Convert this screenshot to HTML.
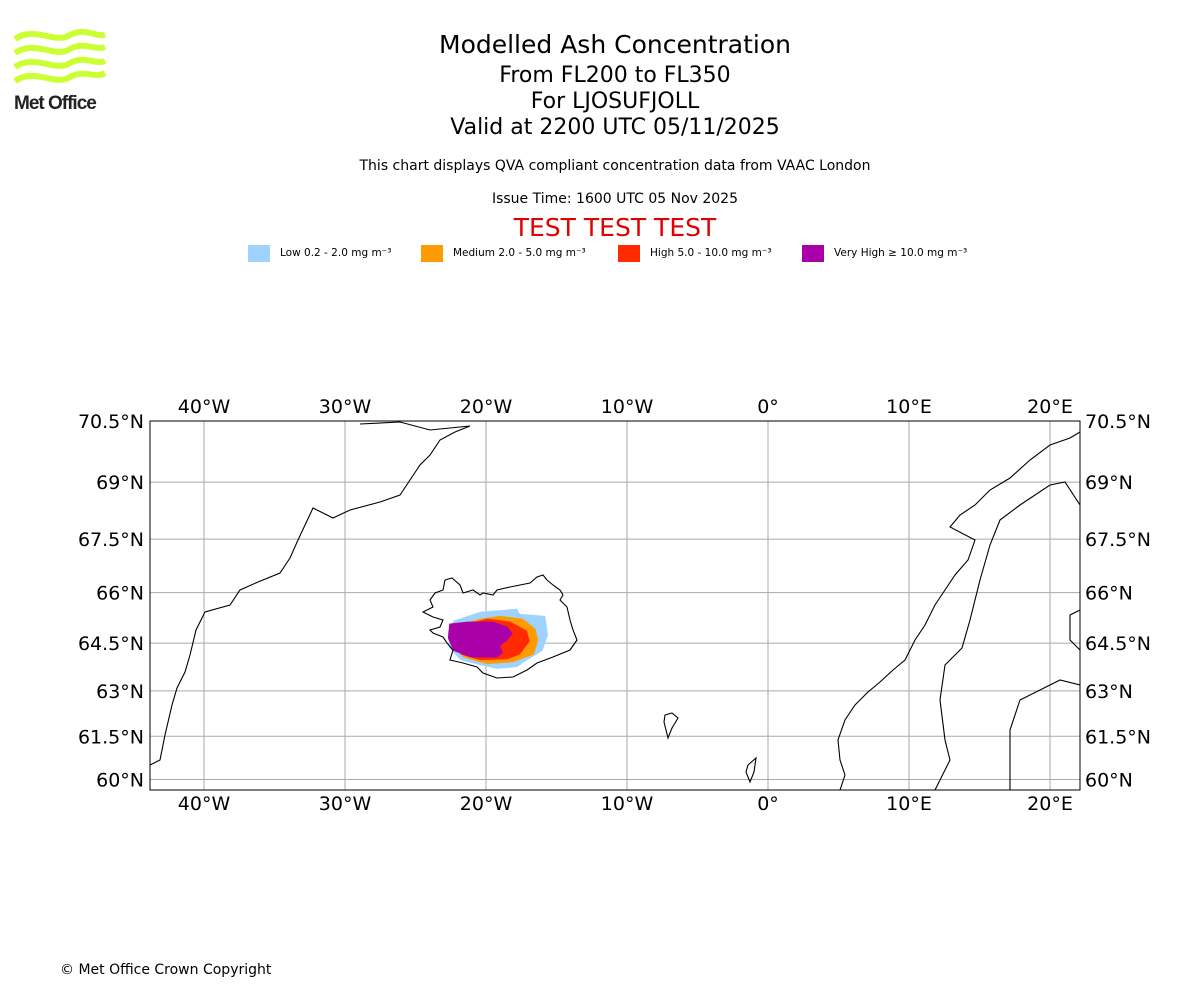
<!DOCTYPE html>
<html><head><meta charset="utf-8"><style>
body{margin:0;width:1200px;height:1000px;background:#fff;font-family:"DejaVu Sans","Liberation Sans",sans-serif;position:relative;overflow:hidden}
.t{position:absolute;left:0;width:1230px;text-align:center;color:#000}
</style></head><body>
<svg width="110" height="90" style="position:absolute;left:10px;top:25px" viewBox="0 0 110 90">
<g fill="none" stroke="#ccff33" stroke-width="6">
<path d="M5 14 C25 0,45 20,60 10 C75 2,85 12,95 10"/>
<path d="M5 28 C25 14,45 34,60 24 C75 16,85 26,95 22"/>
<path d="M5 42 C25 28,45 48,60 38 C75 30,85 40,95 36"/>
<path d="M5 56 C25 42,45 62,60 52 C75 44,85 54,95 48"/>
</g>
<text x="4" y="84" font-family="Liberation Sans,sans-serif" font-weight="bold" font-size="19" fill="#222" letter-spacing="-1">Met Office</text>
</svg>
<div class="t" style="top:30px;font-size:25px">Modelled Ash Concentration</div>
<div class="t" style="top:63px;font-size:22px">From FL200 to FL350</div>
<div class="t" style="top:89px;font-size:22px">For LJOSUFJOLL</div>
<div class="t" style="top:115px;font-size:22px">Valid at 2200 UTC 05/11/2025</div>
<div class="t" style="top:158px;font-size:14px">This chart displays QVA compliant concentration data from VAAC London</div>
<div class="t" style="top:191px;font-size:14px">Issue Time: 1600 UTC 05 Nov 2025</div>
<div class="t" style="top:213px;font-size:25px;color:#e00000">TEST TEST TEST</div>
<svg id="chart" width="1200" height="1000" style="position:absolute;left:0;top:0"></svg>
<div style="position:absolute;left:60px;top:962px;font-size:14px">© Met Office Crown Copyright</div>
<script>
const legendLabels=["Low 0.2 - 2.0 mg m⁻³","Medium 2.0 - 5.0 mg m⁻³","High 5.0 - 10.0 mg m⁻³","Very High ≥ 10.0 mg m⁻³"];
const levelColors=["#a0d2ff","#ff9a00","#ff2a00","#aa00aa"];
const lonTicks=[-40,-30,-20,-10,0,10,20];
const latTicks=[60,61.5,63,64.5,66,67.5,69,70.5];
const lowLon=[-20.4,-17.8,-17.6,-15.8,-15.6,-16.0,-17.1,-17.8,-19.2,-20.4,-21.8,-22.6,-22.7,-22.3];
const lowLat=[65.44,65.53,65.38,65.32,64.74,64.26,63.97,63.76,63.7,63.82,63.97,64.35,64.85,65.18];
const medLon=[-22.1,-20.4,-19.0,-17.4,-16.5,-16.3,-16.6,-18.1,-19.9,-21.6,-22.3];
const medLat=[65.03,65.24,65.32,65.24,64.94,64.59,64.15,63.91,63.85,64.06,64.44];
const highLon=[-22.1,-19.9,-18.3,-17.1,-16.9,-17.6,-18.5,-20.4,-21.8,-22.3];
const highLat=[65.0,65.24,65.15,64.88,64.56,64.15,64.0,63.97,64.15,64.56];
const vhLon=[-22.6,-21.3,-19.5,-18.5,-18.1,-18.5,-19.0,-18.8,-19.2,-21.1,-22.3,-22.7];
const vhLat=[65.09,65.15,65.15,65.0,64.79,64.59,64.41,64.21,64.06,64.06,64.26,64.65];

const NS="http://www.w3.org/2000/svg";
const svg=document.getElementById('chart');
const L=150,R=1080,T=421,B=790;
function merc(l){return Math.log(Math.tan(Math.PI/4+l*Math.PI/360));}
function xS(lon){return 768+lon*14.1;}
function yS(lat){return 421+(merc(70.5)-merc(lat))*807;}
function mk(tag,a){const e=document.createElementNS(NS,tag);for(const k in a)e.setAttribute(k,a[k]);svg.appendChild(e);return e;}
legendLabels.forEach((lab,i)=>{
  const x=[248,421,618,802][i];
  const r=mk('rect',{x:x,y:245,width:22,height:17,fill:levelColors[i]});
  
  
  const t=mk('text',{x:x+32,y:256,'font-size':10.5,'font-family':'DejaVu Sans,sans-serif'});
  t.textContent=lab;
  
  
});
const defs=mk('defs',{});
const cp=document.createElementNS(NS,'clipPath');cp.setAttribute('id','cl');defs.appendChild(cp);
const cr=document.createElementNS(NS,'rect');cr.setAttribute('x',L);cr.setAttribute('y',T);cr.setAttribute('width',R-L);cr.setAttribute('height',B-T);cp.appendChild(cr);
const g=mk('g',{'clip-path':'url(#cl)'});
function add(parent,tag,a){const e=document.createElementNS(NS,tag);for(const k in a)e.setAttribute(k,a[k]);parent.appendChild(e);return e;}
[[lowLon,lowLat],[medLon,medLat],[highLon,highLat],[vhLon,vhLat]].forEach((s,i)=>{
  const pts=s[0].map((lo,j)=>xS(lo).toFixed(1)+','+yS(s[1][j]).toFixed(1)).join(' ');
  const p=add(g,'polygon',{points:pts,fill:levelColors[i]});
  
  
});
const coast=[
"M150,765 L160,760 L165,735 L172,705 L177,688 L185,672 L190,655 L196,630 L205,612 L230,605 L240,590 L258,582 L280,573 L290,558 L298,540 L313,508 L333,518 L350,510 L380,502 L400,495 L410,480 L420,465 L430,455 L440,440 L455,432 L470,426 L430,430 L400,422 L360,424",
"M423,612 L433,607 L430,600 L435,593 L443,590 L445,580 L452,578 L460,585 L463,593 L473,590 L480,595 L483,593 L493,595 L497,590 L510,587 L520,585 L530,583 L537,577 L543,575 L547,580 L553,585 L560,590 L563,595 L560,600 L567,607 L570,620 L573,630 L577,640 L570,650 L553,657 L537,663 L527,670 L513,677 L497,678 L483,673 L477,667 L463,663 L450,660 L453,650 L447,643 L443,637 L433,633 L430,630 L440,627 L443,620 L433,617 Z",
"M1080,432 L1070,438 L1050,445 L1030,460 L1010,478 L990,490 L975,505 L960,515 L950,527 L975,540 L968,560 L955,575 L945,590 L935,605 L925,625 L915,640 L905,660 L893,670 L880,682 L868,692 L855,705 L845,720 L838,740 L840,760 L845,775 L840,790",
"M1080,505 L1065,482 L1050,485 L1020,505 L1000,520 L990,545 L980,580 L970,620 L962,648 L945,665 L940,700 L945,740 L950,760 L935,790",
"M1010,790 L1010,730 L1020,700 L1040,690 L1060,680 L1080,685",
"M1080,610 L1070,615 L1070,640 L1080,650",
"M665,715 L672,713 L678,718 L672,728 L668,738 L664,722 Z",
"M748,765 L756,758 L754,772 L750,782 L746,772 Z"];
coast.forEach(d=>{const p=add(g,'path',{d:d,fill:'none',stroke:'#000','stroke-width':1.1});
});
lonTicks.forEach(lo=>{const x=xS(lo);
 const l=mk('line',{x1:x,x2:x,y1:T,y2:B,stroke:'#aaa','stroke-width':1});
 
 const lab=(lo<0?(-lo)+'°W':lo>0?lo+'°E':'0°');
 [[T-8],[B+20]].forEach(yy=>{const t=mk('text',{x:x,y:yy[0],'text-anchor':'middle','font-size':19,'font-family':'DejaVu Sans,sans-serif'});t.textContent=lab;
 });
});
latTicks.forEach(la=>{const y=yS(la);
 const l=mk('line',{x1:L,x2:R,y1:y,y2:y,stroke:'#aaa','stroke-width':1});
 
 const lab=la+'°N';
 const t1=mk('text',{x:L-6,y:y+7,'text-anchor':'end','font-size':19,'font-family':'DejaVu Sans,sans-serif'});t1.textContent=lab;
 
 const t2=mk('text',{x:R+5,y:y+7,'text-anchor':'start','font-size':19,'font-family':'DejaVu Sans,sans-serif'});t2.textContent=lab;
 
});
svg.appendChild(g);
const fr=mk('rect',{x:L,y:T,width:R-L,height:B-T,fill:'none',stroke:'#000','stroke-width':1});

</script>
</body></html>
